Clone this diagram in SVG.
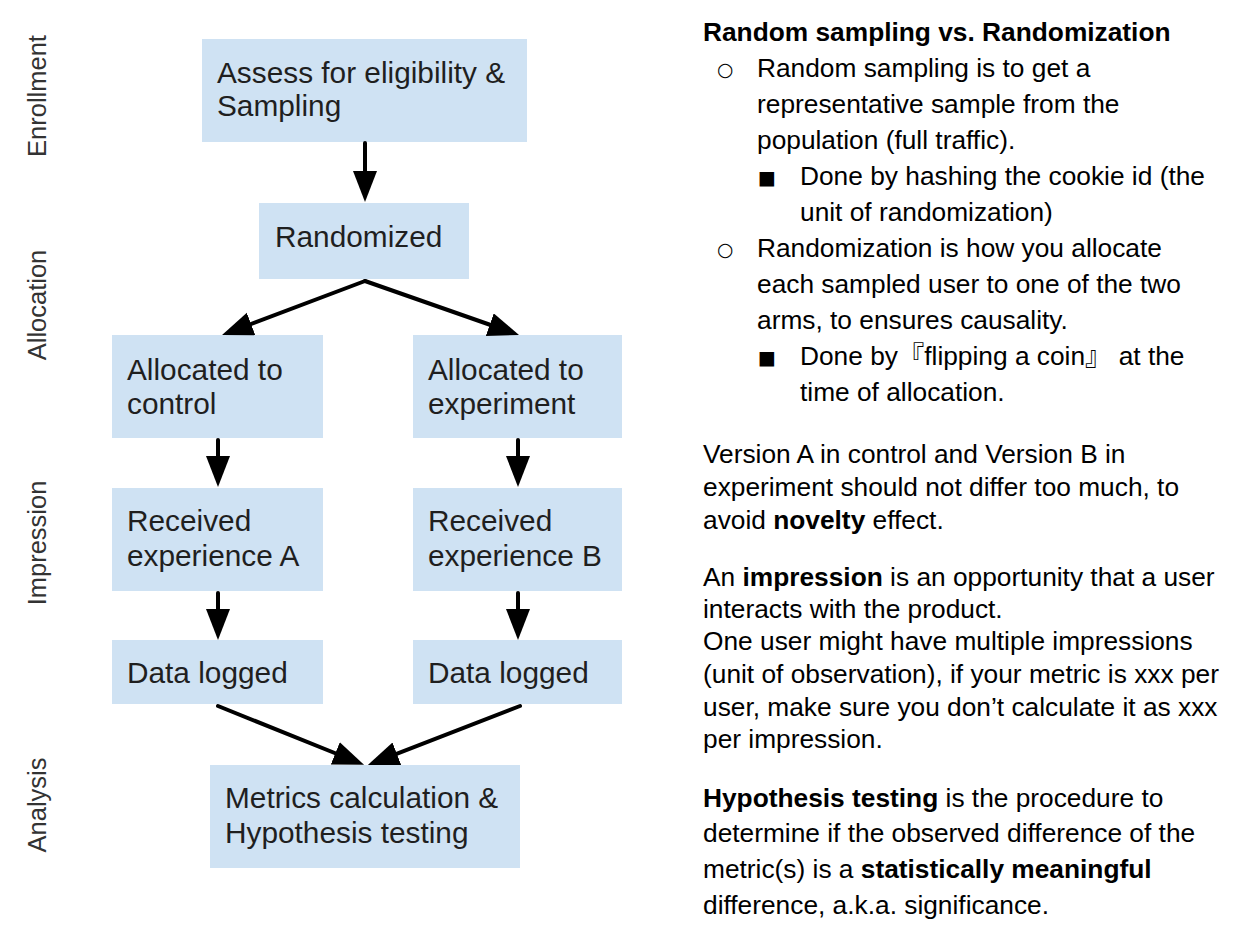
<svg xmlns="http://www.w3.org/2000/svg" width="1236" height="926" viewBox="0 0 1236 926">
<style>
.box{fill:#cfe2f3}
.bt{font-family:"Liberation Sans",Arial,sans-serif;font-size:29.8px;fill:#1f1f1f}
.lab{font-family:"Liberation Sans",Arial,sans-serif;font-size:25.5px;fill:#333}
.rt{font-family:"Liberation Sans",Arial,"Noto Sans CJK JP",sans-serif;font-size:26.3px;fill:#000}
.b{font-weight:bold}
.bul{font-family:"DejaVu Sans",sans-serif;font-size:19px;fill:#000}
.conn line{stroke:#000;stroke-width:4;stroke-linecap:round;marker-end:url(#ah)}
</style>
<defs>
<marker id="ah" markerUnits="userSpaceOnUse" markerWidth="34" markerHeight="26" refX="10" refY="12" orient="auto" viewBox="0 0 34 26">
<path d="M0,0 L31,12 L0,24 z" fill="#000"/>
</marker>
</defs>
<rect width="1236" height="926" fill="#fff"/>

<g id="phase-labels">
<text class="lab" text-anchor="middle" transform="translate(46,96) rotate(-90)">Enrollment</text>
<text class="lab" text-anchor="middle" transform="translate(46,305) rotate(-90)">Allocation</text>
<text class="lab" text-anchor="middle" transform="translate(46,543) rotate(-90)">Impression</text>
<text class="lab" text-anchor="middle" transform="translate(46,805) rotate(-90)">Analysis</text>
</g>

<g id="node-assess">
<rect class="box" x="202" y="39" width="325" height="103"/>
<text class="bt" x="217" y="83">Assess for eligibility &amp;</text>
<text class="bt" x="217" y="116">Sampling</text>
</g>
<g id="node-randomized">
<rect class="box" x="259" y="203" width="210" height="76"/>
<text class="bt" x="275" y="247">Randomized</text>
</g>
<g id="node-alloc-control">
<rect class="box" x="112" y="335" width="211" height="103"/>
<text class="bt" x="127" y="380">Allocated to</text>
<text class="bt" x="127" y="414">control</text>
</g>
<g id="node-alloc-experiment">
<rect class="box" x="413" y="335" width="209" height="103"/>
<text class="bt" x="428" y="380">Allocated to</text>
<text class="bt" x="428" y="414">experiment</text>
</g>
<g id="node-received-a">
<rect class="box" x="112" y="488" width="211" height="103"/>
<text class="bt" x="127" y="531">Received</text>
<text class="bt" x="127" y="566">experience A</text>
</g>
<g id="node-received-b">
<rect class="box" x="413" y="488" width="209" height="103"/>
<text class="bt" x="428" y="531">Received</text>
<text class="bt" x="428" y="566">experience B</text>
</g>
<g id="node-data-a">
<rect class="box" x="112" y="640" width="211" height="64"/>
<text class="bt" x="127" y="683">Data logged</text>
</g>
<g id="node-data-b">
<rect class="box" x="413" y="640" width="209" height="64"/>
<text class="bt" x="428" y="683">Data logged</text>
</g>
<g id="node-metrics">
<rect class="box" x="210" y="765" width="310" height="103"/>
<text class="bt" x="225" y="808">Metrics calculation &amp;</text>
<text class="bt" x="225" y="843">Hypothesis testing</text>
</g>

<g id="connectors" class="conn">
<line x1="365" y1="143" x2="365" y2="181"/>
<line x1="365" y1="281" x2="241.7" y2="327.5"/>
<line x1="365" y1="281" x2="499.2" y2="328"/>
<line x1="218" y1="440" x2="218" y2="466"/>
<line x1="518" y1="440" x2="518" y2="466"/>
<line x1="218" y1="593" x2="218" y2="619"/>
<line x1="518" y1="593" x2="518" y2="619"/>
<line x1="218" y1="706" x2="344.6" y2="757"/>
<line x1="520" y1="706" x2="387.5" y2="757.3"/>
</g>

<g id="notes">
<text class="rt b" x="703" y="41">Random sampling vs. Randomization</text>
<text class="bul" x="717" y="76">○</text>
<text class="rt" x="757" y="77">Random sampling is to get a</text>
<text class="rt" x="757" y="113">representative sample from the</text>
<text class="rt" x="757" y="149">population (full traffic).</text>
<text class="bul" x="758" y="184">■</text>
<text class="rt" x="800" y="185">Done by hashing the cookie id (the</text>
<text class="rt" x="800" y="221">unit of randomization)</text>
<text class="bul" x="717" y="256">○</text>
<text class="rt" x="757" y="257">Randomization is how you allocate</text>
<text class="rt" x="757" y="293">each sampled user to one of the two</text>
<text class="rt" x="757" y="329">arms, to ensures causality.</text>
<text class="bul" x="758" y="364">■</text>
<text class="rt" x="800" y="365">Done by『flipping a coin』 at the</text>
<text class="rt" x="800" y="401">time of allocation.</text>

<text class="rt" x="703" y="463">Version A in control and Version B in</text>
<text class="rt" x="703" y="496">experiment should not differ too much, to</text>
<text class="rt" x="703" y="529">avoid <tspan class="b">novelty</tspan> effect.</text>

<text class="rt" x="703" y="586">An <tspan class="b">impression</tspan> is an opportunity that a user</text>
<text class="rt" x="703" y="618">interacts with the product.</text>
<text class="rt" x="703" y="650">One user might have multiple impressions</text>
<text class="rt" x="703" y="683">(unit of observation), if your metric is xxx per</text>
<text class="rt" x="703" y="716">user, make sure you don’t calculate it as xxx</text>
<text class="rt" x="703" y="748">per impression.</text>

<text class="rt" x="703" y="807"><tspan class="b">Hypothesis testing</tspan> is the procedure to</text>
<text class="rt" x="703" y="842">determine if the observed difference of the</text>
<text class="rt" x="703" y="878">metric(s) is a <tspan class="b">statistically meaningful</tspan></text>
<text class="rt" x="703" y="914">difference, a.k.a. significance.</text>
</g>
</svg>
